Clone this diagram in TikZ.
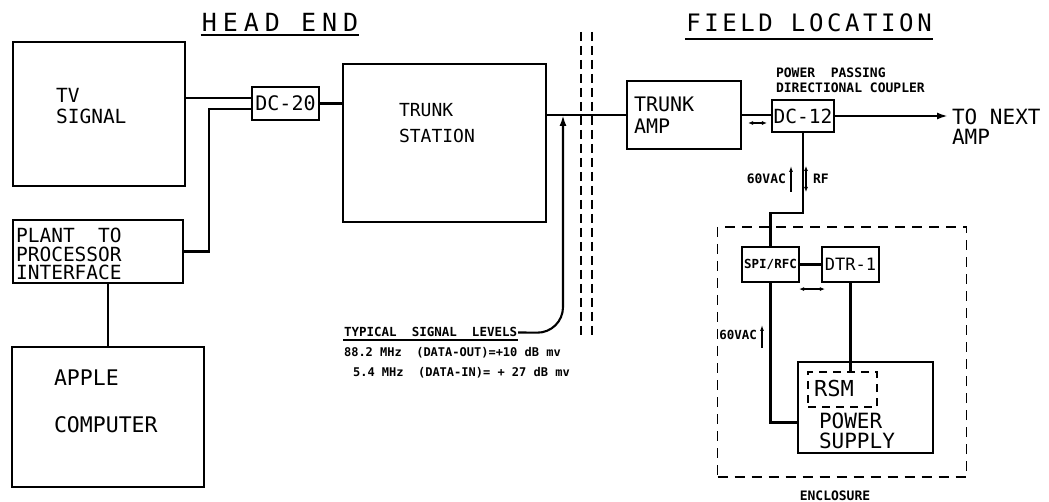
\documentclass[tikz,border=0pt]{standalone}
\usepackage{fontspec}
\usetikzlibrary{arrows.meta}
\newfontfamily\lettering{DejaVu Sans Mono}
\newcommand{\ltr}[2]{\lettering\fontsize{#1}{#2}\selectfont}

\begin{document}
\begin{tikzpicture}[
    x=1pt, y=-1pt,
    line width=2.1pt,
    blk/.style={draw, rectangle, inner sep=0pt, line width=2.1pt},
    lbl/.style={inner sep=0pt, anchor=base west, align=left},
    sml/.style={inner sep=0pt, font=\ltr{13}{15}\bfseries},
    arrow/.style={-{Latex[length=11pt,width=7pt]}},
    dblarr/.style={line width=1.1pt, {Latex[length=5pt,width=4pt]}-{Latex[length=5pt,width=4pt]}},
    uparr/.style={line width=1.1pt, -{Latex[length=6pt,width=4pt]}},
    encl/.style={draw, rectangle, inner sep=0pt, dash pattern=on 10pt off 7pt, line width=1.6pt}
  ]
  \useasboundingbox (0,0) rectangle (1049,502);

  % titles
  \node[inner sep=0pt, anchor=base, font={\ltr{25}{25}\addfontfeature{LetterSpace=24}}] (head) at (280,32) {HEAD END};
  \node[inner sep=0pt, anchor=base, font={\ltr{24}{24}\addfontfeature{LetterSpace=15}}] (field) at (809,32) {FIELD LOCATION};
  \draw ([yshift=-3pt]head.base west) -- ([yshift=-3pt]head.base east);
  \draw ([yshift=-7pt]field.base west) -- ([yshift=-7pt]field.base east);

  % head end
  \node[blk, minimum width=172, minimum height=144] (tv) at (99,114) {};
  \node[blk, minimum width=170, minimum height=63] (plant) at (98,251.5) {};
  \node[blk, minimum width=192, minimum height=140] (apple) at (108,417) {};
  \node[blk, minimum width=67, minimum height=33, font=\ltr{20}{20}] (dc20) at (285.5,103.5) {DC-20};
  \node[blk, minimum width=203, minimum height=158] (ts) at (444.5,143) {};

  \node[lbl, font=\ltr{19.5}{21}] (tvtxt) at (55,124) {TV\\SIGNAL};
  \node[lbl, font=\ltr{19.5}{18.5}] (planttxt) at (15,280) {PLANT~~TO\\PROCESSOR\\INTERFACE};
  \node[lbl, font=\ltr{21.5}{47}] (appletxt) at (53,432) {APPLE\\COMPUTER};
  \node[lbl, font=\ltr{18}{26}] (tstxt) at (398,143) {TRUNK\\STATION};

  \coordinate (tvin) at ([yshift=5.5pt]dc20.west);
  \coordinate (plin) at ([yshift=-5.5pt]dc20.west);
  \draw (tv.east |- tvin) -- (tvin);
  \draw (plant.east) -- ++(25,0) |- (plin);
  \draw (apple.north) -- (apple.north |- plant.south);
  \draw (dc20.east) -- (dc20.east -| ts.west);

  % field location
  \node[blk, minimum width=114, minimum height=68] (ta) at (684,115) {};
  \node[lbl, font=\ltr{20}{22}] (tatxt) at (633,134) {TRUNK\\AMP};
  \node[blk, minimum width=62, minimum height=32, font=\ltr{19.5}{19.5}] (dc12) at (803,116) {DC-12};
  \node[lbl, sml] (pptxt) at (775,93) {POWER~~PASSING\\DIRECTIONAL COUPLER};
  \coordinate (nxt) at (948,116);
  \node[lbl, font=\ltr{21}{20}] (nxttxt) at (951,145) {TO NEXT\\AMP};

  \draw (ta.west -| ts.east) -- (ta.west);
  \draw (ta.east) -- (ta.east -| dc12.west);
  \draw[arrow] (dc12.east) -- (nxt);
  \draw[dblarr] ([xshift=6pt,yshift=-8pt]ta.east) -- ([xshift=-4pt,yshift=-7pt]dc12.west);

  % hut at the pole
  \node[encl, minimum width=249, minimum height=250] (encl) at (842,352) {};
  \node[sml, anchor=base] (encltxt) at (835,500) {ENCLOSURE};
  \node[blk, minimum width=57, minimum height=35, font=\ltr{12.5}{12.5}\bfseries] (spi) at (770.5,264.5) {SPI/RFC};
  \node[blk, minimum width=57, minimum height=35, font=\ltr{17}{17}] (dtr) at (850.5,264.5) {DTR-1};
  \node[blk, minimum width=135, minimum height=91] (ps) at (865.5,407.5) {};
  \node[encl, dash pattern=on 8pt off 6pt, minimum width=69, minimum height=35] (rsm) at (842.5,389.5) {};
  \node[lbl, font=\ltr{22}{22}] (rsmtxt) at (813,396) {RSM};
  \node[lbl, font=\ltr{21}{20}] (pstxt) at (818,448) {POWER\\SUPPLY};

  \draw (dc12.south) -- ++(0,80) -| (spi.north);
  \draw (spi.east) -- (dtr.west);
  \draw[dblarr] ([xshift=-1pt,yshift=-6pt]spi.south east) -- ([xshift=4pt,yshift=-6pt]dtr.south west);
  \draw (spi.south) |- ([yshift=-15pt]ps.west);
  \draw (dtr.south) -- (dtr.south |- rsm.north);

  \draw[uparr] (791,192) -- (791,166);
  \draw[dblarr] (806,192) -- (806,166);
  \node[sml, anchor=base east] (vac1) at (787,184) {60VAC};
  \node[sml, anchor=base west] (rf) at (812,184) {RF};
  \draw[uparr] (762,348) -- (762,325);
  \node[sml, anchor=base east, font=\ltr{12.5}{12.5}\bfseries] (vac2) at (758,340) {60VAC};

  % signal levels
  \draw[dash pattern=on 9pt off 5pt, line width=1.5pt] (581,32) -- (581,338);
  \draw[dash pattern=on 9pt off 5pt, line width=1.5pt] (592,32) -- (592,338);
  \node[lbl, font=\ltr{12.5}{12.5}\bfseries] (typ) at (343,337) {TYPICAL~~SIGNAL~~LEVELS};
  \draw ([yshift=-3pt]typ.base west) -- ([yshift=-3pt]typ.base east);
  \coordinate (tap) at (563,0 |- ta.west);
  \draw[arrow, rounded corners=26pt] (typ.east) -- (563,333) -- (tap);
  \node[lbl, font=\ltr{12}{12}\bfseries] (lvl1) at (343,356) {88.2 MHz~~(DATA-OUT)=+10 dB mv};
  \node[lbl, font=\ltr{12}{12}\bfseries] (lvl2) at (352,377) {5.4 MHz~~(DATA-IN)= + 27 dB mv};

\end{tikzpicture}
\end{document}
